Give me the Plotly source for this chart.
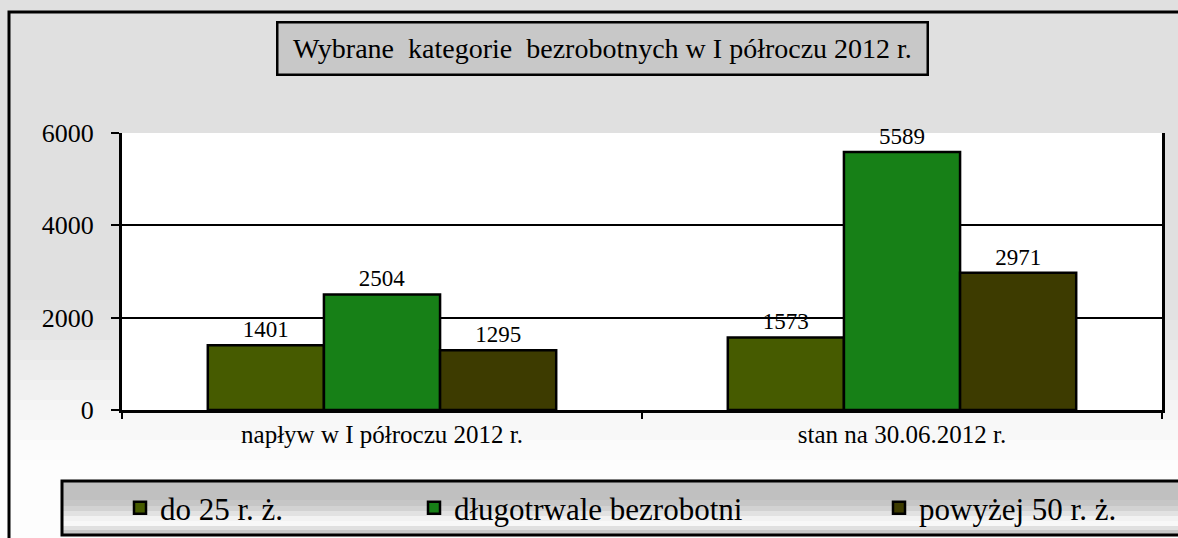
import plotly.graph_objects as go

categories = ["napływ w I półroczu 2012 r.", "stan na 30.06.2012 r."]
series_names = ["do 25 r. ż.", "długotrwale bezrobotni", "powyżej 50 r. ż."]
do25 = [1401, 1573]
dlugo = [2504, 5589]
pow50 = [1295, 2971]
colors = ["#465b00", "#178017", "#3d3b00"]
title_text = "Wybrane  kategorie  bezrobotnych w I półroczu 2012 r."

W, H = 1178, 538
L, R, T, B = 122, 1162, 133, 410


def px(x):
    return (x - L) / (R - L)


def py(y):
    return (B - y) / (B - T)


FONT = "Liberation Serif, Times New Roman, serif"

fig = go.Figure()
legends = ["legend", "legend2", "legend3"]
for name, vals, col, lg in zip(series_names, [do25, dlugo, pow50], colors, legends):
    fig.add_trace(go.Bar(
        x=categories, y=vals, name=name, legend=lg,
        marker=dict(color=col, line=dict(color="black", width=2.5)),
        text=[str(v) for v in vals], textposition="outside",
        textfont=dict(family=FONT, size=23, color="black"),
        cliponaxis=False,
    ))

shapes = []
shapes.append(dict(type="rect", xref="paper", yref="paper", x0=px(-20), x1=px(W + 20),
                   y0=py(H + 20), y1=py(-20), fillcolor="#e0e0e0", line=dict(width=0), layer="below"))
steps = [(300, "#e2e2e2"), (320, "#e5e5e5"), (340, "#e9e9e9"), (360, "#ededed"),
         (380, "#f1f1f1"), (400, "#f5f5f5"), (420, "#f8f8f8"), (440, "#fbfbfb"), (460, "#fdfdfd")]
for y0, c in steps:
    shapes.append(dict(type="rect", xref="paper", yref="paper", x0=px(-20), x1=px(W + 20),
                       y0=py(H + 20), y1=py(y0), fillcolor=c, line=dict(width=0), layer="below"))
shapes.append(dict(type="rect", xref="paper", yref="paper", x0=0, x1=1, y0=0, y1=1,
                   fillcolor="white", line=dict(width=0), layer="below"))
shapes.append(dict(type="rect", xref="paper", yref="paper", x0=px(9), x1=px(W + 20),
                   y0=py(H + 20), y1=py(12), fillcolor="rgba(0,0,0,0)",
                   line=dict(color="black", width=3), layer="below"))
lg_top, lg_bot = 481, 535
lsteps = [(481, "#c0c0c0"), (500, "#c6c6c6"), (506, "#d2d2d2"), (511, "#e2e2e2"),
          (516, "#f2f2f2"), (521, "#f8f8f8"), (526, "#e0e0e0"), (530, "#c8c8c8")]
for y0, c in lsteps:
    shapes.append(dict(type="rect", xref="paper", yref="paper", x0=px(62), x1=px(W + 20),
                       y0=py(lg_bot), y1=py(y0), fillcolor=c, line=dict(width=0), layer="below"))
shapes.append(dict(type="rect", xref="paper", yref="paper", x0=px(62), x1=px(W + 20),
                   y0=py(lg_bot), y1=py(lg_top), fillcolor="rgba(0,0,0,0)",
                   line=dict(color="black", width=3), layer="below"))

legend_common = dict(orientation="h", yanchor="middle", y=py(508), xanchor="left",
                     bgcolor="rgba(0,0,0,0)", borderwidth=0,
                     font=dict(family=FONT, size=31, color="black"))

fig.update_layout(
    width=W, height=H,
    margin=dict(l=L, r=W - R, t=T, b=H - B, autoexpand=False),
    paper_bgcolor="white", plot_bgcolor="white",
    barmode="group", bargap=0.33, bargroupgap=0,
    showlegend=True,
    legend=dict(x=px(120), **legend_common),
    legend2=dict(x=px(414), **legend_common),
    legend3=dict(x=px(879), **legend_common),
    shapes=shapes,
    annotations=[dict(
        text=title_text, xref="paper", yref="paper", x=px(602), y=py(49),
        xanchor="center", yanchor="middle", showarrow=False,
        font=dict(family=FONT, size=28, color="black"),
        bgcolor="#c8c8c8", bordercolor="black", borderwidth=2.5, borderpad=4,
        width=640, height=42,
    )],
    xaxis=dict(
        type="category", showgrid=False, showline=True, linecolor="black", linewidth=2.5,
        mirror=False, ticks="outside", tickson="boundaries", ticklen=6, tickwidth=2,
        tickcolor="black", tickfont=dict(family=FONT, size=25, color="black"),
        automargin=False,
    ),
    yaxis=dict(
        range=[0, 6000], tickvals=[0, 2000, 4000, 6000],
        showgrid=True, gridcolor="black", gridwidth=2,
        showline=True, linecolor="black", linewidth=3, mirror=True,
        ticks="outside", ticklen=8, tickwidth=2, tickcolor="black",
        tickfont=dict(family=FONT, size=26, color="black"),
        ticklabelstandoff=12,
        zeroline=False, automargin=False,
    ),
)

fig.write_html("out.html", config={"displayModeBar": False},
               post_script="document.body.style.margin='0';document.body.style.overflow='hidden';")
